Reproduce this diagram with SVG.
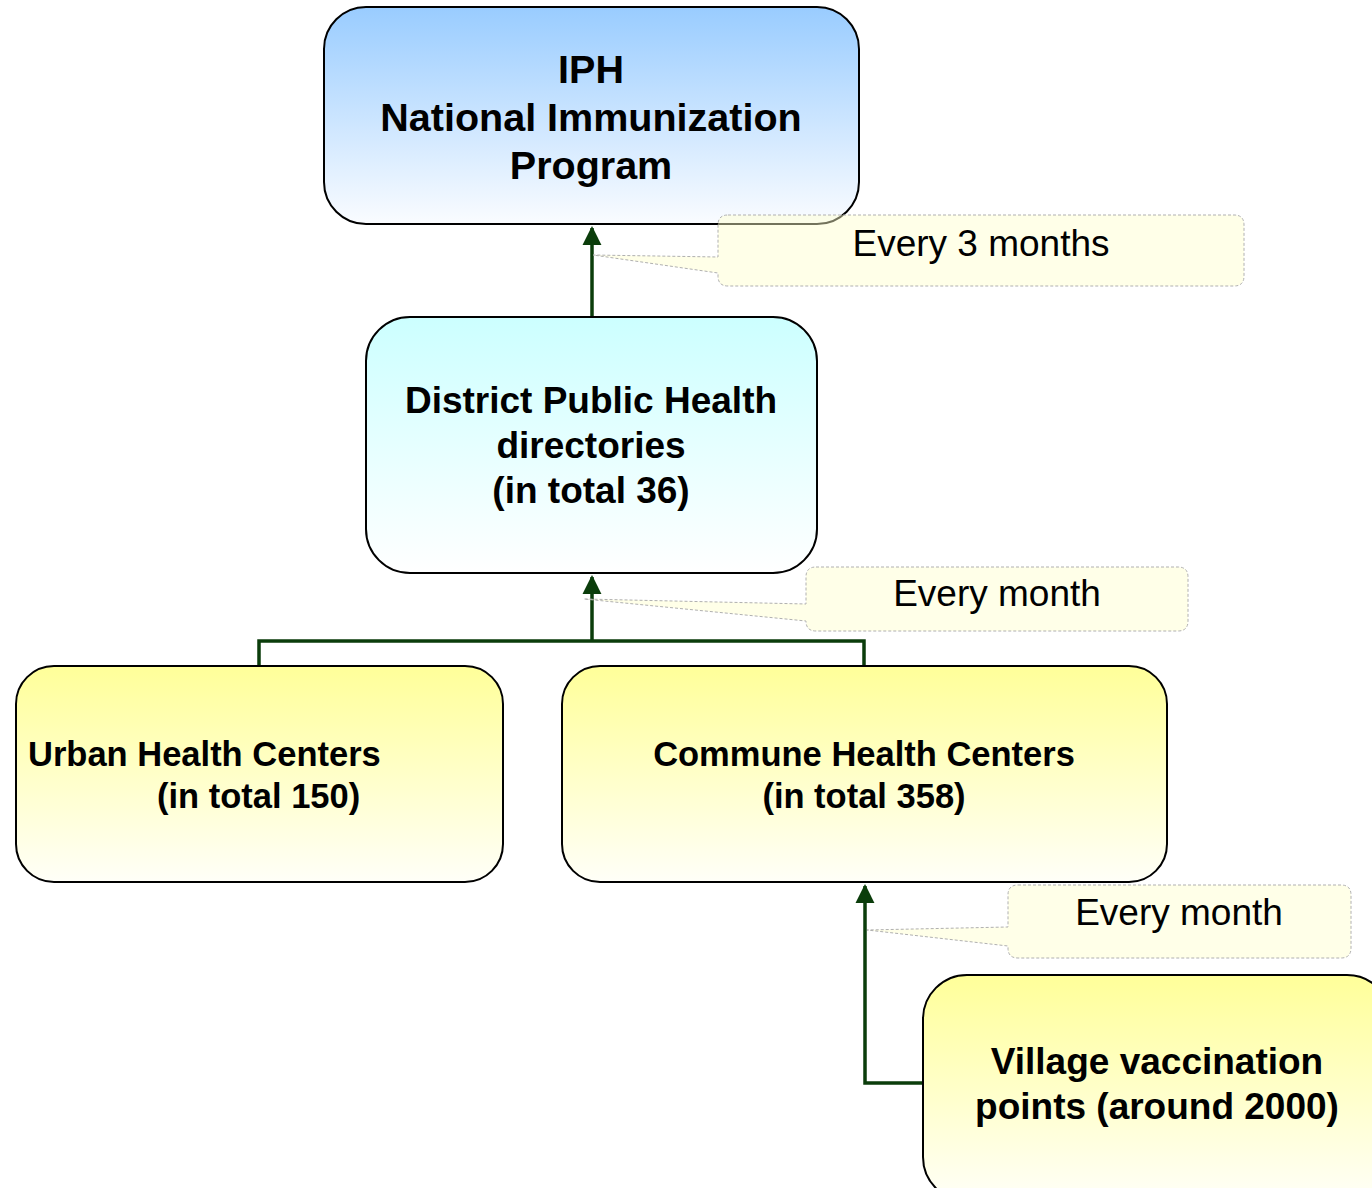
<svg xmlns="http://www.w3.org/2000/svg" width="1372" height="1188" viewBox="0 0 1372 1188">
<defs>
<linearGradient id="gBlue" x1="0" y1="0" x2="0" y2="1"><stop offset="0" stop-color="#99CCFF"/><stop offset="1" stop-color="#FAFCFF"/></linearGradient>
<linearGradient id="gCyan" x1="0" y1="0" x2="0" y2="1"><stop offset="0" stop-color="#CCFFFF"/><stop offset="1" stop-color="#FFFFFF"/></linearGradient>
<linearGradient id="gYellow" x1="0" y1="0" x2="0" y2="1"><stop offset="0" stop-color="#FFFF99"/><stop offset="1" stop-color="#FFFFF8"/></linearGradient>
<marker id="arr" viewBox="0 0 10 10" refX="9" refY="5" markerWidth="5.5" markerHeight="5.5" orient="auto" markerUnits="strokeWidth"><path d="M0,0 L10,5 L0,10 Z" fill="#0B3D0B"/></marker>
</defs>
<style>
.box{stroke:#000;stroke-width:2}
.bt{font-family:"Liberation Sans",Arial,sans-serif;font-weight:bold;fill:#000}
.ct{font-family:"Liberation Sans",Arial,sans-serif;font-size:37px;fill:#000}
.call{fill:#FFFFCC;fill-opacity:0.45;stroke:#B0B0B0;stroke-width:1;stroke-dasharray:3,2}
.con{fill:none;stroke:#0B3D0B;stroke-width:3.5}
</style>
<rect width="1372" height="1188" fill="#fff"/>
<g id="connectors">
<path class="con" d="M592,317 V228" marker-end="url(#arr)"/>
<path class="con" d="M259,666 V641 H864 V666 M592,641 V577" marker-end="url(#arr)"/>
<path class="con" d="M923,1083 H865 V886" marker-end="url(#arr)"/>
</g>
<g id="iph">
<rect class="box" x="324" y="7" width="535" height="217" rx="42" fill="url(#gBlue)"/>
<text class="bt" font-size="39.5" text-anchor="middle" x="591"><tspan x="591" y="83">IPH</tspan><tspan x="591" y="131">National Immunization</tspan><tspan x="591" y="179">Program</tspan></text>
</g>
<g id="district">
<rect class="box" x="366" y="317" width="451" height="256" rx="44" fill="url(#gCyan)"/>
<text class="bt" font-size="37" text-anchor="middle"><tspan x="591" y="413">District Public Health</tspan><tspan x="591" y="458">directories</tspan><tspan x="591" y="503">(in total 36)</tspan></text>
</g>
<g id="urban">
<rect class="box" x="16" y="666" width="487" height="216" rx="38" fill="url(#gYellow)"/>
<text class="bt" font-size="34.5"><tspan x="28" y="766">Urban Health Centers</tspan><tspan x="157" y="808">(in total 150)</tspan></text>
</g>
<g id="commune">
<rect class="box" x="562" y="666" width="605" height="216" rx="38" fill="url(#gYellow)"/>
<text class="bt" font-size="34.5" text-anchor="middle"><tspan x="864" y="766">Commune Health Centers</tspan><tspan x="864" y="808">(in total 358)</tspan></text>
</g>
<g id="village">
<rect class="box" x="923" y="975" width="468" height="226" rx="44" fill="url(#gYellow)"/>
<text class="bt" font-size="37" text-anchor="middle"><tspan x="1157" y="1074">Village vaccination</tspan><tspan x="1157" y="1119">points (around 2000)</tspan></text>
</g>
<g id="callout1">
<path class="call" d="M728,215 H1234 Q1244,215 1244,225 V276 Q1244,286 1234,286 H728 Q718,286 718,276 V273 L593,255 L718,257 V225 Q718,215 728,215 Z"/>
<text class="ct" text-anchor="middle" x="981" y="256">Every 3 months</text>
</g>
<g id="callout2">
<path class="call" d="M816,567 H1178 Q1188,567 1188,577 V621 Q1188,631 1178,631 H816 Q806,631 806,621 L584,599 L806,604 V577 Q806,567 816,567 Z"/>
<text class="ct" text-anchor="middle" x="997" y="606">Every month</text>
</g>
<g id="callout3">
<path class="call" d="M1018,885 H1341 Q1351,885 1351,895 V948 Q1351,958 1341,958 H1018 Q1008,958 1008,948 V946 L867,930 L1008,927 V895 Q1008,885 1018,885 Z"/>
<text class="ct" text-anchor="middle" x="1179" y="925">Every month</text>
</g>
</svg>
